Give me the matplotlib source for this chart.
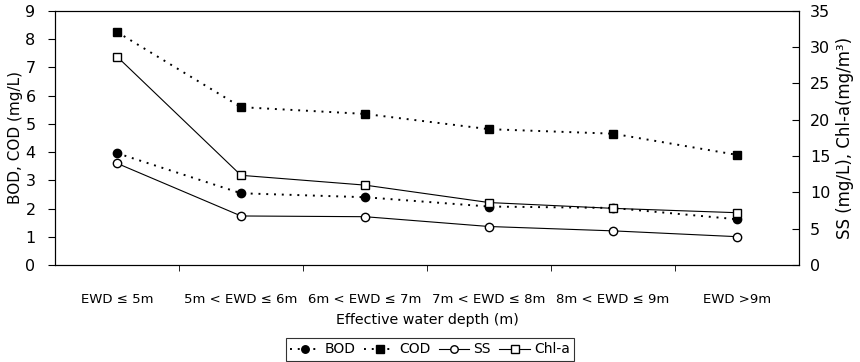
import matplotlib.pyplot as plt

plt.rcParams['font.family'] = ['DejaVu Sans']

categories = ['EWD ≤ 5m', '5m < EWD ≤ 6m', '6m < EWD ≤ 7m',
              '7m < EWD ≤ 8m', '8m < EWD ≤ 9m', 'EWD >9m']
bod = [3.96, 2.54, 2.40, 2.07, 2.02, 1.62]
cod = [8.25, 5.59, 5.35, 4.81, 4.65, 3.90]
ss = [14.0, 6.75, 6.65, 5.3, 4.7, 3.9]
chla = [28.7, 12.35, 11.0, 8.6, 7.8, 7.2]

x = list(range(len(categories)))

fig = plt.figure(figsize=(8.6, 3.62), dpi=100)
ax = fig.add_axes([0.064, 0.268, 0.865, 0.702])
ax2 = ax.twinx()

dots = (0, (1, 3))
l1, = ax.plot(x, bod, ls=dots, lw=1.4, color='black', marker='o', ms=6,
              mfc='black', mec='black', label='BOD')
l2, = ax.plot(x, cod, ls=dots, lw=1.4, color='black', marker='s', ms=6,
              mfc='black', mec='black', label='COD')
l3, = ax2.plot(x, ss, ls='-', lw=0.8, color='black', marker='o', ms=6,
               mfc='white', mec='black', label='SS')
l4, = ax2.plot(x, chla, ls='-', lw=0.8, color='black', marker='s', ms=6,
               mfc='white', mec='black', label='Chl-a')

ax.set_xlim(-0.5, 5.5)
ax.set_ylim(0, 9)
ax2.set_ylim(0, 35)
ax.set_yticks(range(0, 10))
ax2.set_yticks(range(0, 36, 5))

# category labels without ticks, ticks only between categories
ax.set_xticks(x)
ax.set_xticklabels(categories, fontsize=9.5)
ax.tick_params(axis='x', length=0, pad=20)
ax.set_xticks([0.5, 1.5, 2.5, 3.5, 4.5], minor=True)
ax.tick_params(axis='x', which='minor', length=4, direction='out')

ax.tick_params(axis='y', labelsize=11.5, length=5, direction='out', pad=9)
ax2.tick_params(axis='y', labelsize=11.5, length=5, direction='in', pad=8)

ax.set_ylabel('BOD, COD (mg/L)', fontsize=11, labelpad=2)
ax2.set_ylabel('SS (mg/L), Chl-a(mg/m³)', fontsize=12, labelpad=4)
ax.set_xlabel('Effective water depth (m)', fontsize=10.3, labelpad=5)

leg = fig.legend(handles=[l1, l2, l3, l4], loc='lower center',
                 bbox_to_anchor=(0.5, 0.0), ncol=4, fontsize=10,
                 frameon=True, fancybox=False, edgecolor='black',
                 handlelength=2.2, handletextpad=0.3, columnspacing=0.6,
                 borderpad=0.3, borderaxespad=0.1, markerscale=0.9)
leg.get_frame().set_linewidth(0.8)

plt.savefig('out.png', dpi=100)
